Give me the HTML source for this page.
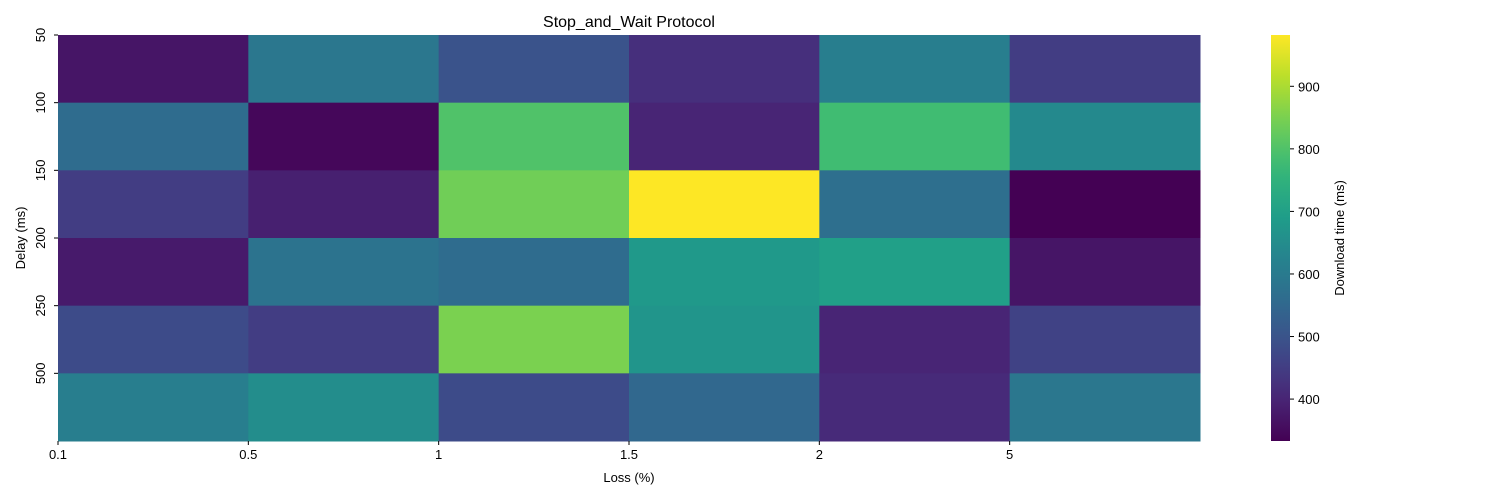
<!DOCTYPE html>
<html><head><meta charset="utf-8"><style>
body{margin:0;background:#fff;}
svg{display:block;font-family:"Liberation Sans","DejaVu Sans",sans-serif;}
</style></head><body>
<svg id="chart" width="1500" height="500"></svg>
<script>
const lossLabels=["0.1","0.5","1","1.5","2","5"];
const delayLabels=["50","100","150","200","250","500"];
const row50=[370,590,500,420,610,450];
const row100=[560,345,800,400,780,640];
const row150=[450,390,840,982,570,333];
const row200=[380,580,560,680,700,370];
const row250=[480,450,850,670,400,460];
const row500=[610,650,480,550,410,590];
const values=[row50,row100,row150,row200,row250,row500];
const cbTicks=[400,500,600,700,800,900];
const vmin=333, vmax=982;

const stops=[[68,1,84],[72,40,120],[62,74,137],[49,104,142],[38,130,142],[31,158,137],[53,183,121],[110,206,88],[181,222,43],[253,231,37]];
function viridis(t){t=Math.max(0,Math.min(1,t));const s=t*(stops.length-1);const i=Math.min(Math.floor(s),stops.length-2);const f=s-i;
const c=stops[i].map((v,k)=>Math.round(v+(stops[i+1][k]-v)*f));return `rgb(${c[0]},${c[1]},${c[2]})`;}
const NS="http://www.w3.org/2000/svg";
const svg=document.getElementById('chart');
function mk(tag,attrs,parent){const e=document.createElementNS(NS,tag);for(const k in attrs)e.setAttribute(k,attrs[k]);(parent||svg).appendChild(e);return e;}
const X0=58,X1=1200,Y0=35,Y1=441;
const cw=(X1-X0)/lossLabels.length, ch=(Y1-Y0)/delayLabels.length;
const xPos=i=>X0+i*cw, yPos=j=>Y0+j*ch;
values.forEach((row,j)=>row.forEach((v,i)=>{
 const r=mk('rect',{x:xPos(i),y:yPos(j),width:cw+0.5,height:ch+0.5,fill:viridis((v-vmin)/(vmax-vmin))});
 
 
}));
lossLabels.forEach((l,i)=>{
 mk('line',{x1:xPos(i),x2:xPos(i),y1:Y1,y2:Y1+4,stroke:'#000','stroke-width':1});
 const t=mk('text',{x:xPos(i),y:Y1+18,'text-anchor':'middle','font-size':13});t.textContent=l;
 
 
});
delayLabels.forEach((l,j)=>{
 mk('line',{x1:X0-4,x2:X0,y1:yPos(j),y2:yPos(j),stroke:'#000','stroke-width':1});
 const t=mk('text',{x:0,y:0,'text-anchor':'middle','font-size':13,transform:`translate(45,${yPos(j)}) rotate(-90)`});t.textContent=l;
 
 
});
let t=mk('text',{x:629,y:27,'text-anchor':'middle','font-size':16});t.textContent='Stop_and_Wait Protocol';

t=mk('text',{x:629,y:482,'text-anchor':'middle','font-size':13});t.textContent='Loss (%)';

t=mk('text',{x:0,y:0,'text-anchor':'middle','font-size':13,transform:'translate(25,238) rotate(-90)'});t.textContent='Delay (ms)';

const CX=1271,CW=19;
const defs=mk('defs',{});const g=mk('linearGradient',{id:'vg',x1:0,y1:1,x2:0,y2:0},defs);
for(let k=0;k<=20;k++)mk('stop',{offset:k/20,'stop-color':viridis(k/20)},g);
const cb=mk('rect',{x:CX,y:Y0,width:CW,height:Y1-Y0,fill:'url(#vg)'});

const cy=v=>Y1-(v-vmin)/(vmax-vmin)*(Y1-Y0);
cbTicks.forEach(v=>{
 mk('line',{x1:CX+CW,x2:CX+CW+4,y1:cy(v),y2:cy(v),stroke:'#000','stroke-width':1});
 const tt=mk('text',{x:CX+CW+8,y:cy(v)+5,'font-size':13});tt.textContent=v;
 
});
t=mk('text',{x:0,y:0,'text-anchor':'middle','font-size':13,transform:'translate(1344,238) rotate(-90)'});t.textContent='Download time (ms)';

</script>
</body></html>
